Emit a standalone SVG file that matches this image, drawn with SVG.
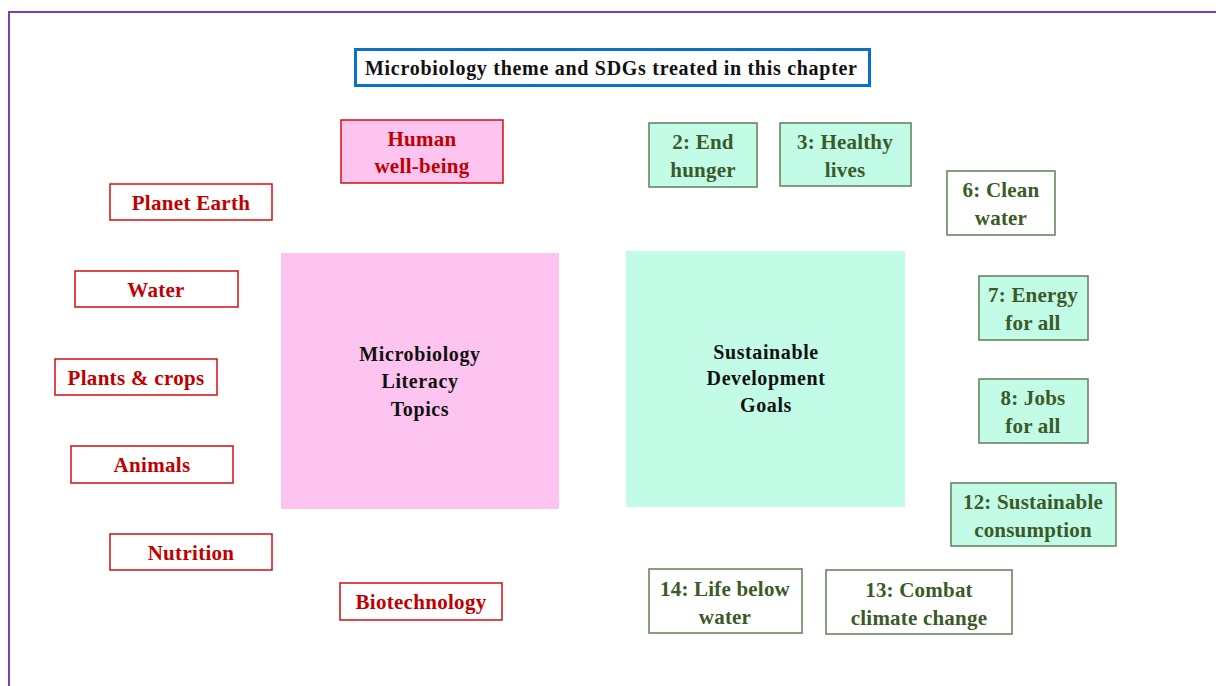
<svg xmlns="http://www.w3.org/2000/svg" width="1216" height="686" viewBox="0 0 1216 686">
<style>
text{font-family:"Liberation Serif","DejaVu Serif",serif;font-weight:bold;text-anchor:middle;dominant-baseline:central}
.r rect{fill:#fff;stroke:#d01010;stroke-width:1.5}
.r text{fill:#c00000;font-size:21px;letter-spacing:0.3px}
.g rect{fill:#c2fbe6;stroke:#5f7f56;stroke-width:1.5}
.gw rect{fill:#fff;stroke:#5f7f56;stroke-width:1.5}
.g text,.gw text{fill:#3b5a28;font-size:21px;letter-spacing:0.2px}
.c text{fill:#111;font-size:20px;letter-spacing:0.6px}
</style>
<rect width="1216" height="686" fill="#fff"/>
<path d="M9 686 V12 H1216" fill="none" stroke="#7a3fb0" stroke-width="2"/>
<g id="title"><rect x="355.5" y="49.5" width="514" height="36" fill="#fff" stroke="#0a72c4" stroke-width="3"/><text x="611" y="68" font-size="20" fill="#111" textLength="492" lengthAdjust="spacing">Microbiology theme and SDGs treated in this chapter</text></g>
<g id="mlt" class="c"><rect x="281" y="253" width="278" height="256" fill="#fcc4ee"/><text x="420" y="354">Microbiology</text><text x="420" y="381">Literacy</text><text x="420" y="409">Topics</text></g>
<g id="sdg" class="c"><rect x="626" y="251" width="279" height="256" fill="#c2fbe6"/><text x="766" y="352">Sustainable</text><text x="766" y="378">Development</text><text x="766" y="405">Goals</text></g>
<g id="human" class="r"><rect x="341" y="120" width="162" height="63" style="fill:#fcc4ee"/><text x="422" y="139">Human</text><text x="422" y="166">well-being</text></g>
<g id="planet" class="r"><rect x="110" y="184" width="162" height="36"/><text x="191" y="203">Planet Earth</text></g>
<g id="water" class="r"><rect x="75" y="271" width="163" height="36"/><text x="156" y="290">Water</text></g>
<g id="plants" class="r"><rect x="55" y="359" width="162" height="36"/><text x="136" y="378">Plants &amp; crops</text></g>
<g id="animals" class="r"><rect x="71" y="446" width="162" height="37"/><text x="152" y="465">Animals</text></g>
<g id="nutrition" class="r"><rect x="110" y="534" width="162" height="36"/><text x="191" y="553">Nutrition</text></g>
<g id="biotech" class="r"><rect x="340" y="583" width="162" height="37"/><text x="421" y="602">Biotechnology</text></g>
<g id="sdg2" class="g"><rect x="649" y="123" width="108" height="64"/><text x="703" y="142">2: End</text><text x="703" y="170">hunger</text></g>
<g id="sdg3" class="g"><rect x="780" y="123" width="131" height="63"/><text x="845" y="142">3: Healthy</text><text x="845" y="170">lives</text></g>
<g id="sdg6" class="gw"><rect x="947" y="171" width="108" height="64"/><text x="1001" y="190">6: Clean</text><text x="1001" y="218">water</text></g>
<g id="sdg7" class="g"><rect x="979" y="276" width="109" height="64"/><text x="1033" y="295">7: Energy</text><text x="1033" y="323">for all</text></g>
<g id="sdg8" class="g"><rect x="979" y="379" width="109" height="64"/><text x="1033" y="398">8: Jobs</text><text x="1033" y="426">for all</text></g>
<g id="sdg12" class="g"><rect x="951" y="483" width="165" height="63"/><text x="1033" y="502">12: Sustainable</text><text x="1033" y="530">consumption</text></g>
<g id="sdg14" class="gw"><rect x="649" y="569" width="153" height="64"/><text x="725" y="589">14: Life below</text><text x="725" y="617">water</text></g>
<g id="sdg13" class="gw"><rect x="826" y="570" width="186" height="64"/><text x="919" y="590">13: Combat</text><text x="919" y="618">climate change</text></g>
<g id="connectors"/>
</svg>
